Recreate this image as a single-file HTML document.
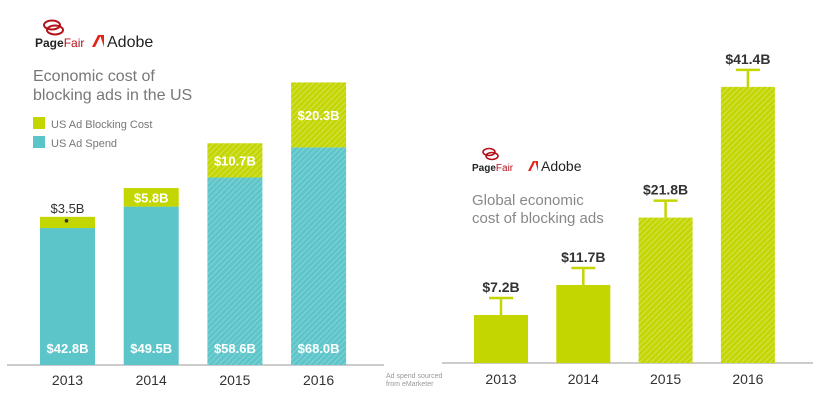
<!DOCTYPE html>
<html><head><meta charset="utf-8">
<style>
html,body{margin:0;padding:0;background:#fff;}
body{width:820px;height:404px;overflow:hidden;font-family:"Liberation Sans",sans-serif;}
svg text{font-family:"Liberation Sans",sans-serif;}
</style></head>
<body>
<svg width="820" height="404" viewBox="0 0 820 404">
<defs>
<pattern id="hatchTeal" width="4" height="4" patternUnits="userSpaceOnUse" patternTransform="rotate(45)">
<rect width="4" height="4" fill="#5cc5ca"/><rect width="1.2" height="4" fill="#7fd1d5"/>
</pattern>
<pattern id="hatchGreen" width="4" height="4" patternUnits="userSpaceOnUse" patternTransform="rotate(45)">
<rect width="4" height="4" fill="#c4d600"/><rect width="1.2" height="4" fill="#d2e04a"/>
</pattern>
</defs>
<g id="left">
<g>
<ellipse cx="52" cy="25" rx="8" ry="4.5" fill="none" stroke="#b5121b" stroke-width="2"/>
<ellipse cx="55" cy="30" rx="8" ry="4.5" fill="none" stroke="#b5121b" stroke-width="2"/>
<text x="35" y="47" font-size="12" font-weight="bold" fill="#222">Page<tspan fill="#b5121b" font-weight="normal">Fair</tspan></text>
</g>
<g>
<polygon points="92,47 98,35 101,35 95,47" fill="#e1251b"/><polygon points="100,35 104,35 104,47" fill="#e1251b"/>
<text x="107" y="47" font-size="16" fill="#222">Adobe</text>
</g>
<text x="33" y="81" font-size="16" fill="#777">Economic cost of</text>
<text x="33" y="100" font-size="16" fill="#777">blocking ads in the US</text>
<rect x="33" y="117" width="12" height="12" fill="#c4d600"/>
<text x="51" y="128" font-size="11" fill="#777">US Ad Blocking Cost</text>
<rect x="33" y="136" width="12" height="12" fill="#5cc5ca"/>
<text x="51" y="147" font-size="11" fill="#777">US Ad Spend</text>
<line x1="7" y1="365" x2="384" y2="365" stroke="#bbb" stroke-width="1.5"/>
<text x="386" y="378" font-size="7" fill="#999">Ad spend sourced</text>
<text x="386" y="386" font-size="7" fill="#999">from eMarketer</text>
</g>
<g id="right">
<g>
<ellipse cx="489" cy="152" rx="6" ry="3.5" fill="none" stroke="#b5121b" stroke-width="1.6"/>
<ellipse cx="492" cy="156" rx="6" ry="3.5" fill="none" stroke="#b5121b" stroke-width="1.6"/>
<text x="472" y="171" font-size="10" font-weight="bold" fill="#222">Page<tspan fill="#b5121b" font-weight="normal">Fair</tspan></text>
</g>
<g>
<polygon points="528,171 533,161 535.5,161 530.5,171" fill="#e1251b"/><polygon points="535,161 538,161 538,171" fill="#e1251b"/>
<text x="541" y="171" font-size="14" fill="#222">Adobe</text>
</g>
<text x="472" y="205" font-size="15" fill="#888">Global economic</text>
<text x="472" y="223" font-size="15" fill="#888">cost of blocking ads</text>
<line x1="442" y1="363" x2="813" y2="363" stroke="#bbb" stroke-width="1.5"/>
</g>
</svg>
<script>
const years = ["2013","2014","2015","2016"];
const usSpend = [42.8, 49.5, 58.6, 68.0];
const usBlocking = [3.5, 5.8, 10.7, 20.3];
const usSpendLabels = ["$42.8B","$49.5B","$58.6B","$68.0B"];
const usBlockingLabels = ["$3.5B","$5.8B","$10.7B","$20.3B"];
const globalCost = [7.2, 11.7, 21.8, 41.4];
const globalLabels = ["$7.2B","$11.7B","$21.8B","$41.4B"];
const projected = [false, false, true, true];

const NS = "http://www.w3.org/2000/svg";
function mk(tag, attrs, parent, txt){
  const e = document.createElementNS(NS, tag);
  for (const k in attrs) e.setAttribute(k, attrs[k]);
  if (txt !== undefined) e.textContent = txt;
  parent.appendChild(e); return e;
}
const L = document.getElementById('left');
const lBase = 365, lScale = 3.2, lX0 = 40, lStep = 83.7, lW = 55;
const lx = i => lX0 + i * lStep;
const ly = v => lBase - v * lScale;
years.forEach((yr, i) => {
  const x = lx(i);
  const sTop = ly(usSpend[i]);
  const bTop = ly(usSpend[i] + usBlocking[i]);
  let r = mk('rect', {x: x, y: sTop, width: lW, height: lBase - sTop, fill: projected[i] ? 'url(#hatchTeal)' : '#5cc5ca'}, L);
  
  
  r = mk('rect', {x: x, y: bTop, width: lW, height: sTop - bTop, fill: projected[i] ? 'url(#hatchGreen)' : '#c4d600'}, L);
  
  
  let t = mk('text', {x: x + lW / 2, y: lBase - 12, 'font-size': 13, 'font-weight': 'bold', fill: '#fff', 'text-anchor': 'middle'}, L, usSpendLabels[i]);
  
  
  const h = sTop - bTop;
  if (h > 18) {
    t = mk('text', {x: x + lW / 2, y: (sTop + bTop) / 2 + 5, 'font-size': 13, 'font-weight': 'bold', fill: '#fff', 'text-anchor': 'middle'}, L, usBlockingLabels[i]);
  } else {
    t = mk('text', {x: x + lW / 2, y: bTop - 4, 'font-size': 13, fill: '#333', 'text-anchor': 'middle'}, L, usBlockingLabels[i]);
    const d = mk('circle', {cx: x + lW / 2 - 1, cy: bTop + 4, r: 1.8, fill: '#333'}, L);
    
    
  }
  
  
  t = mk('text', {x: x + lW / 2, y: lBase + 20, 'font-size': 14, fill: '#333', 'text-anchor': 'middle'}, L, yr);
  
  
});
const R = document.getElementById('right');
const rBase = 363, rScale = 6.67, rX0 = 474, rStep = 82.3, rW = 54;
const rx = i => rX0 + i * rStep;
const ry = v => rBase - v * rScale;
years.forEach((yr, i) => {
  const x = rx(i), top = ry(globalCost[i]), cx = x + rW / 2;
  let r = mk('rect', {x: x, y: top, width: rW, height: rBase - top, fill: projected[i] ? 'url(#hatchGreen)' : '#c4d600'}, R);
  
  
  const eb = mk('path', {d: `M${cx},${top} V${top - 17} M${cx - 12},${top - 17} H${cx + 12}`, stroke: '#c4d600', 'stroke-width': 2.5, fill: 'none'}, R);
  
  
  let t = mk('text', {x: cx, y: top - 23, 'font-size': 14, 'font-weight': 'bold', fill: '#333', 'text-anchor': 'middle'}, R, globalLabels[i]);
  
  
  t = mk('text', {x: cx, y: rBase + 21, 'font-size': 14, fill: '#333', 'text-anchor': 'middle'}, R, yr);
  
  
});
</script>
</body></html>
